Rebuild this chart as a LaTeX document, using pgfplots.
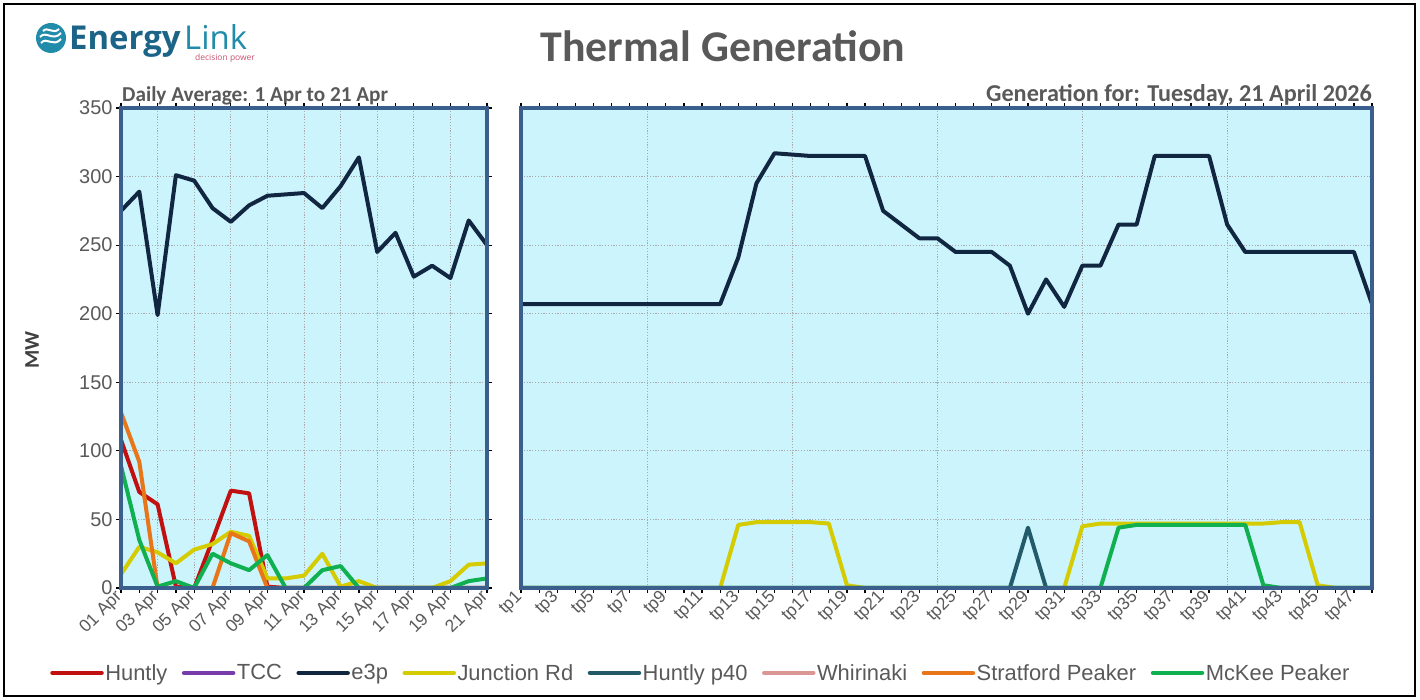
\documentclass[border=0pt]{standalone}
\usepackage{fontspec}
\setmainfont{Liberation Sans}
\newfontfamily\carlito{Carlito}
\newfontfamily\logofont{Open Sans}
\usepackage{pgfplots}
\pgfplotsset{compat=1.18}
\usepackage{pgfplotstable}

\definecolor{cHuntly}{RGB}{192,16,16}
\definecolor{cTCC}{RGB}{120,60,170}
\definecolor{cE3p}{RGB}{17,38,64}
\definecolor{cJunction}{RGB}{212,204,0}
\definecolor{cP40}{RGB}{35,90,105}
\definecolor{cWhirinaki}{RGB}{217,150,148}
\definecolor{cStratford}{RGB}{232,118,24}
\definecolor{cMcKee}{RGB}{16,176,80}
\definecolor{bgcyan}{RGB}{204,244,252}
\definecolor{borderblue}{RGB}{59,95,140}
\definecolor{gridgray}{RGB}{170,170,170}
\definecolor{labgray}{RGB}{89,89,89}
\definecolor{mwgray}{RGB}{64,64,64}
\definecolor{logoteal}{RGB}{33,140,170}
\definecolor{logodark}{RGB}{28,100,135}
\definecolor{logopink}{RGB}{200,80,110}

\pgfplotstableread{
day huntly tcc e3p junction p40 whirinaki stratford mckee
1  108 0 275 10 0 0 128 89
2  70  0 289 30 0 0 92  35
3  61  0 199 26 0 0 0   1
4  1   0 301 18 0 0 0   5
5  0   0 297 28 0 0 0   0
6  35  0 277 32 0 0 0   25
7  71  0 267 41 0 0 40  18
8  69  0 279 38 0 0 34  13
9  1   0 286 7  0 0 0   24
10 0   0 287 7  0 0 0   0
11 0   0 288 9  0 0 0   0
12 0   0 277 25 0 0 0   13
13 0   0 293 1  0 0 0   16
14 0   0 314 5  0 0 0   0
15 0   0 245 0  0 0 0   0
16 0   0 259 0  0 0 0   0
17 0   0 227 0  0 0 0   0
18 0   0 235 0  0 0 0   0
19 0   0 226 5  0 0 0   0
20 0   0 268 17 0 0 0   5
21 0   0 250 18 0 0 0   7
}\daily

\pgfplotstableread{
tp huntly tcc e3p junction p40 whirinaki stratford mckee
1  0 0 207 0  0  0 0 0
2  0 0 207 0  0  0 0 0
3  0 0 207 0  0  0 0 0
4  0 0 207 0  0  0 0 0
5  0 0 207 0  0  0 0 0
6  0 0 207 0  0  0 0 0
7  0 0 207 0  0  0 0 0
8  0 0 207 0  0  0 0 0
9  0 0 207 0  0  0 0 0
10 0 0 207 0  0  0 0 0
11 0 0 207 0  0  0 0 0
12 0 0 207 0  0  0 0 0
13 0 0 241 46 0  0 0 0
14 0 0 295 48 0  0 0 0
15 0 0 317 48 0  0 0 0
16 0 0 316 48 0  0 0 0
17 0 0 315 48 0  0 0 0
18 0 0 315 47 0  0 0 0
19 0 0 315 2  0  0 0 0
20 0 0 315 0  0  0 0 0
21 0 0 275 0  0  0 0 0
22 0 0 265 0  0  0 0 0
23 0 0 255 0  0  0 0 0
24 0 0 255 0  0  0 0 0
25 0 0 245 0  0  0 0 0
26 0 0 245 0  0  0 0 0
27 0 0 245 0  0  0 0 0
28 0 0 235 0  0  0 0 0
29 0 0 200 0  44 0 0 0
30 0 0 225 0  0  0 0 0
31 0 0 205 0  0  0 0 0
32 0 0 235 45 0  0 0 0
33 0 0 235 47 0  0 0 0
34 0 0 265 47 0  0 0 44
35 0 0 265 47 0  0 0 46
36 0 0 315 47 0  0 0 46
37 0 0 315 47 0  0 0 46
38 0 0 315 47 0  0 0 46
39 0 0 315 47 0  0 0 46
40 0 0 265 47 0  0 0 46
41 0 0 245 47 0  0 0 46
42 0 0 245 47 0  0 0 2
43 0 0 245 48 0  0 0 0
44 0 0 245 48 0  0 0 0
45 0 0 245 2  0  0 0 0
46 0 0 245 0  0  0 0 0
47 0 0 245 0  0  0 0 0
48 0 0 207 0  0  0 0 0
}\tpdata

\pgfplotsset{
  panel/.style={
    scale only axis, height=480bp,
    ymin=0, ymax=350, ytick={0,50,...,350},
    axis background/.style={fill=bgcyan},
    axis line style={draw=none},
    clip mode=individual,
    ymajorgrids,
    grid style={draw=gridgray, line width=0.9bp, dash pattern=on 1.2bp off 1.6bp},
    tick align=outside, major tick length=5bp, minor tick length=5bp,
    tick style={black, line width=1.2bp},
    xticklabel style={font=\fontsize{17.5}{19}\selectfont, text=labgray, rotate=45, anchor=east, inner sep=2bp},
    yticklabel style={font=\fontsize{20}{22}\selectfont, text=labgray},
    /pgf/number format/assume math mode=true,
    no markers,
    every axis plot/.append style={line width=4bp, line join=round},
  },
}

\begin{document}
\begin{tikzpicture}[x=1bp,y=1bp]
\useasboundingbox (0,0) rectangle (1420,700);
\draw[black, line width=1.5bp] (4,4) rectangle (1415,696);

% logo
\fill[logoteal] (51,662) circle (15);
\draw[white, line width=2bp] (41,657) .. controls (47,664) and (53,652) .. (61,661);
\draw[white, line width=2bp] (40,663) .. controls (46,670) and (53,658) .. (61,667);
\draw[white, line width=2bp] (43,669) .. controls (48,674) and (53,665) .. (59,671);
\node[anchor=base west, inner sep=0, font=\logofont\bfseries\fontsize{33}{36}\selectfont, text=logodark] at (69,650) {Energy};
\node[anchor=base west, inner sep=0, font=\logofont\fontsize{33}{36}\selectfont, text=logoteal] at (184,650) {Link};
\node[anchor=base west, inner sep=0, font=\logofont\fontsize{8.5}{10}\selectfont, text=logopink] at (195,639) {decision power};

% titles
\node[anchor=base, inner sep=0, font=\carlito\bfseries\fontsize{44}{48}\selectfont, text=labgray] at (723,638) {Thermal Generation};
\node[anchor=base west, inner sep=0, font=\carlito\bfseries\fontsize{21.3}{23}\selectfont, text=labgray] at (122,598) {Daily Average: 1 Apr to 21 Apr};
\node[anchor=base east, inner sep=0, font=\carlito\bfseries\fontsize{24.3}{26}\selectfont, text=labgray] at (1372,598) {Generation for: Tuesday, 21 April 2026};
\node[rotate=90, inner sep=0, font=\carlito\bfseries\fontsize{21}{23}\selectfont, text=mwgray] at (32,350) {MW};

% left panel
\begin{axis}[panel, at={(121bp,112bp)}, anchor=south west, width=366bp,
  xmin=1, xmax=21, xtick={1,3,...,21},
  xticklabels={01 Apr,03 Apr,05 Apr,07 Apr,09 Apr,11 Apr,13 Apr,15 Apr,17 Apr,19 Apr,21 Apr},
  minor xtick={2,4,...,20}, xmajorgrids,
  legend columns=8,
  legend style={at={(-0.202,-0.177)}, anchor=west, draw=none, fill=none,
    font=\fontsize{22}{24}\selectfont, text=labgray,
    nodes={inner sep=1.5bp},
    /tikz/every even column/.append style={column sep=13bp}},
  legend cell align=left,
  legend image code/.code={\draw[#1, line width=4.5bp, line cap=round] (0bp,0bp) -- (49bp,0bp);},
]
\addplot[cHuntly] table[x=day, y=huntly] {\daily}; \addlegendentry{Huntly}
\addplot[cTCC] table[x=day, y=tcc] {\daily}; \addlegendentry{TCC}
\addplot[cE3p] table[x=day, y=e3p] {\daily}; \addlegendentry{e3p}
\addplot[cJunction] table[x=day, y=junction] {\daily}; \addlegendentry{Junction Rd}
\addplot[cP40] table[x=day, y=p40] {\daily}; \addlegendentry{Huntly p40}
\addplot[cWhirinaki] table[x=day, y=whirinaki] {\daily}; \addlegendentry{Whirinaki}
\addplot[cStratford] table[x=day, y=stratford] {\daily}; \addlegendentry{Stratford Peaker}
\addplot[cMcKee] table[x=day, y=mckee] {\daily}; \addlegendentry{McKee Peaker}
\draw[borderblue, line width=3.5bp] (rel axis cs:0,0) rectangle (rel axis cs:1,1);
\end{axis}

% right panel
\begin{axis}[panel, at={(521bp,112bp)}, anchor=south west, width=851bp,
  xmin=1, xmax=48, xtick={1,3,...,47},
  xticklabels={tp1,tp3,tp5,tp7,tp9,tp11,tp13,tp15,tp17,tp19,tp21,tp23,tp25,tp27,tp29,tp31,tp33,tp35,tp37,tp39,tp41,tp43,tp45,tp47},
  minor xtick={2,4,...,48},
  extra x ticks={8,16,24,32,40}, extra x tick labels={},
  extra x tick style={grid=major, major tick length=0bp},
  yticklabels={}, ytick style={draw=none},
]
\addplot[cHuntly] table[x=tp, y=huntly] {\tpdata};
\addplot[cTCC] table[x=tp, y=tcc] {\tpdata};
\addplot[cE3p] table[x=tp, y=e3p] {\tpdata};
\addplot[cJunction] table[x=tp, y=junction] {\tpdata};
\addplot[cP40] table[x=tp, y=p40] {\tpdata};
\addplot[cWhirinaki] table[x=tp, y=whirinaki] {\tpdata};
\addplot[cStratford] table[x=tp, y=stratford] {\tpdata};
\addplot[cMcKee] table[x=tp, y=mckee] {\tpdata};
\draw[borderblue, line width=3.5bp] (rel axis cs:0,0) rectangle (rel axis cs:1,1);
\end{axis}
\end{tikzpicture}
\end{document}
